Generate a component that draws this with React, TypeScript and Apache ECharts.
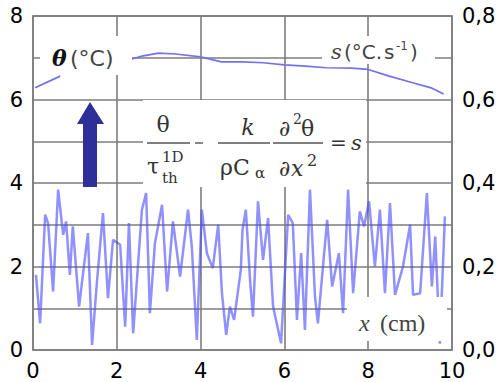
import React, { useEffect, useRef } from "react";
import * as echarts from "echarts";

// Temperature profile θ (°C), left axis
const thetaX = [0.05, 0.65, 1.5, 2.36, 2.6, 3.0, 3.4, 4.0, 4.5, 5.0, 5.5, 6.0, 6.5, 7.0, 7.6, 8.0, 8.5, 9.0, 9.5, 9.8];
const thetaY = [6.28, 6.56, null, 6.97, 7.04, 7.11, 7.09, 7.02, 6.9, 6.9, 6.88, 6.83, 6.8, 6.76, 6.75, 6.72, 6.56, 6.42, 6.28, 6.13];

// Source term s (°C.s-1), right axis
const sX = [
  0.07, 0.17, 0.29, 0.36, 0.48, 0.6, 0.72, 0.79, 0.88, 0.95,
  1.1, 1.31, 1.41, 1.53, 1.67, 1.79, 1.91, 2.08, 2.2, 2.29,
  2.39, 2.6, 2.7, 2.79, 2.91, 3.08, 3.2, 3.34, 3.51, 3.7,
  3.79, 3.91, 4.03, 4.15, 4.29, 4.42, 4.51, 4.61, 4.7, 4.8,
  4.96, 5.0, 5.08, 5.18, 5.25, 5.37, 5.49, 5.61, 5.73, 5.92,
  6.09, 6.2, 6.3, 6.4, 6.49, 6.61, 6.73, 6.8, 7.02, 7.14,
  7.3, 7.4, 7.52, 7.64, 7.8, 7.9, 8.02, 8.16, 8.28, 8.4,
  8.52, 8.64, 8.83, 9.0, 9.07, 9.24, 9.4, 9.52, 9.6, 9.71,
  9.83,
];
const sY = [
  0.18, 0.064, 0.324, 0.304, 0.14, 0.384, 0.276, 0.308, 0.18, 0.296,
  0.104, 0.28, 0.012, 0.168, 0.328, 0.124, 0.264, 0.252, 0.056, 0.304,
  0.04, 0.336, 0.376, 0.088, 0.256, 0.348, 0.14, 0.308, 0.176, 0.336,
  0.248, 0.024, 0.336, 0.232, 0.196, 0.3, 0.136, 0.036, 0.104, 0.072,
  0.192, 0.288, 0.336, 0.168, 0.08, 0.356, 0.216, 0.316, 0.104, 0.016,
  0.324, 0.304, 0.072, 0.232, 0.048, 0.384, 0.128, 0.064, 0.312, 0.152,
  0.232, 0.088, 0.384, 0.136, 0.332, 0.296, 0.356, 0.2, 0.336, 0.136,
  0.352, 0.132, 0.2, 0.3, 0.132, 0.136, 0.376, 0.152, 0.272, 0.015,
  0.32,
];

const xTicks = { min: 0, max: 10, interval: 2 };
const leftTicks = { min: 0, max: 8, interval: 1 };
const rightTicks = { min: 0, max: 0.8, interval: 0.2 };

const GRID_COLOR = "#7d7d7d";
const TEXT_GRAY = "#444";
const SERIF = "'DejaVu Serif', 'Liberation Serif', serif";
const SANS = "'DejaVu Sans', sans-serif";

const txt = (x: number, y: number, text: string, size: number, extra: any = {}) => ({
  type: "text",
  x,
  y,
  z: 20,
  style: {
    text,
    fontSize: size,
    fontFamily: SERIF,
    fill: "#333",
    align: "left",
    verticalAlign: "middle",
    ...extra,
  },
});

const whiteBox = (x: number, y: number, width: number, height: number) => ({
  type: "rect",
  z: 10,
  shape: { x, y, width, height },
  style: { fill: "#fff" },
});

const bar = (x1: number, x2: number, y: number) => ({
  type: "line",
  z: 20,
  shape: { x1, y1: y, x2, y2: y },
  style: { stroke: "#555", lineWidth: 1.4 },
});

export default function App() {
  const ref = useRef<HTMLDivElement>(null);

  useEffect(() => {
    if (!ref.current) return;
    const chart = echarts.init(ref.current, undefined, { renderer: "svg" });

    const labelStyle = {
      fontFamily: SANS,
      fontSize: 21,
      color: "#000",
    };

    chart.setOption({
      animation: false,
      backgroundColor: "#fff",
      grid: {
        left: 33,
        right: 49,
        top: 16,
        bottom: 32,
        show: true,
        borderColor: "#999",
        borderWidth: 2,
      },
      xAxis: {
        type: "value",
        ...xTicks,
        axisLine: { show: false },
        axisTick: { show: false },
        splitLine: { show: true, lineStyle: { color: GRID_COLOR, width: 1.6 } },
        axisLabel: { ...labelStyle, margin: 10 },
      },
      yAxis: [
        {
          type: "value",
          ...leftTicks,
          axisLine: { show: false },
          axisTick: { show: false },
          splitLine: { show: true, lineStyle: { color: GRID_COLOR, width: 1.6 } },
          axisLabel: {
            ...labelStyle,
            margin: 10,
            formatter: (v: number) => (v % 2 === 0 ? String(v) : ""),
          },
        },
        {
          type: "value",
          ...rightTicks,
          position: "right",
          axisLine: { show: false },
          axisTick: { show: false },
          splitLine: { show: false },
          axisLabel: {
            ...labelStyle,
            margin: 10,
            formatter: (v: number) => v.toFixed(1).replace(".", ","),
          },
        },
      ],
      series: [
        {
          name: "theta",
          type: "line",
          yAxisIndex: 0,
          data: thetaX.map((x, i) => [x, thetaY[i]]),
          showSymbol: false,
          connectNulls: false,
          lineStyle: { color: "#7072f0", width: 1.7 },
          z: 3,
        },
        {
          name: "s",
          type: "line",
          yAxisIndex: 1,
          data: sX.map((x, i) => [x, sY[i]]),
          showSymbol: false,
          lineStyle: { color: "rgba(70,70,255,0.6)", width: 2.5 },
          z: 3,
        },
      ],
      graphic: [
        // label backgrounds
        whiteBox(40, 36, 92, 39),
        whiteBox(322, 36, 113, 28),
        whiteBox(143, 100, 223, 87),
        whiteBox(347, 297, 100, 44),

        // θ (°C)
        {
          type: "text",
          x: 52,
          y: 58,
          z: 20,
          style: {
            text: "{t|θ} {u|(°C)}",
            verticalAlign: "middle",
            rich: {
              t: { fontFamily: SERIF, fontSize: 22, fontWeight: "bold", fontStyle: "italic", fill: "#111" },
              u: { fontFamily: SANS, fontSize: 22, fill: TEXT_GRAY },
            },
          },
        },

        // s (°C.s-1)
        txt(331, 52, "s", 21, { fontStyle: "italic", fill: TEXT_GRAY }),
        txt(344, 52, "(°C.", 20, { fontFamily: SANS, fill: TEXT_GRAY }),
        txt(384, 52, "s", 20, { fontFamily: SANS, fill: TEXT_GRAY }),
        txt(396, 46, "-1", 12, { fontFamily: SANS, fill: TEXT_GRAY }),
        txt(410, 52, ")", 20, { fontFamily: SANS, fill: TEXT_GRAY }),

        // x (cm)
        txt(359, 323, "x", 24, { fontFamily: "'Liberation Serif', serif", fontStyle: "italic", fill: TEXT_GRAY }),
        txt(380, 323, "(cm)", 24, { fontFamily: "'Liberation Serif', serif", fill: TEXT_GRAY }),

        // upward arrow
        {
          type: "polygon",
          z: 20,
          shape: {
            points: [
              [83, 187],
              [97, 187],
              [97, 124],
              [104, 124],
              [90, 102],
              [77, 124],
              [83, 124],
            ],
          },
          style: { fill: "#2e2f99" },
        },

        // θ / τth^1D
        txt(163, 124, "θ", 22, { align: "center" }),
        bar(147, 190, 143),
        txt(147, 166, "τ", 22),
        txt(162, 157, "1D", 15),
        txt(162, 178, "th", 15),

        // minus
        bar(195, 203, 143),

        // k / ρCα
        txt(248, 127, "k", 22, { align: "center", fontStyle: "italic" }),
        bar(218, 270, 143),
        txt(220, 167, "ρC", 22),
        txt(255, 173, "α", 15),

        // ∂²θ / ∂x²
        txt(279, 128, "∂", 22),
        txt(293, 119, "2", 14),
        txt(301, 128, "θ", 22),
        bar(273, 323, 143),
        txt(279, 168, "∂", 22),
        txt(291, 168, "x", 22, { fontStyle: "italic" }),
        txt(307, 160, "2", 16),

        // = s
        txt(330, 143, "=", 20),
        txt(351, 143, "s", 21, { fontStyle: "italic" }),
      ],
    });

    return () => chart.dispose();
  }, []);

  return (
    <div
      ref={ref}
      style={{ position: "absolute", left: 0, top: 0, width: 501, height: 382 }}
    />
  );
}
